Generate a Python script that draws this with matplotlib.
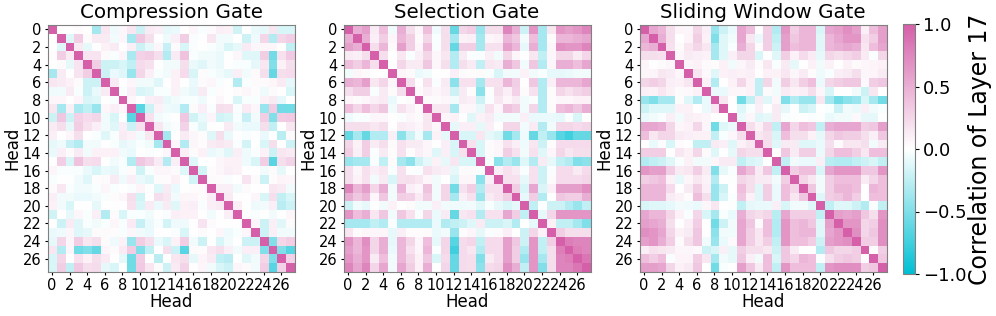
import numpy as np
import matplotlib
matplotlib.use("Agg")
import matplotlib.pyplot as plt
from matplotlib.colors import LinearSegmentedColormap

# upper triangle of each correlation matrix, one list per row (diagonal left out)
compression = [
    [0, 0, .02, 0, -.35, .15, -.07, .05, .15, -.2, .12, .1, -.1, -.08, 0, .05, -.03, .03, .1, .08, -.18, 0, -.08, -.1, .15, -.15, -.15],
    [-.12, .3, .03, .12, .12, -.05, .05, -.35, .35, .2, 0, -.07, .1, .3, -.02, 0, .15, -.05, -.05, 0, -.2, -.07, .25, -.3, .25, .3],
    [.12, -.1, 0, .08, .12, 0, .1, -.2, -.1, .05, -.22, .03, -.15, -.02, 0, -.03, -.05, -.15, -.1, .12, .05, .05, .05, 0, -.25],
    [.17, .17, .03, -.03, .07, -.33, .28, .3, .2, -.3, .12, .38, -.03, -.05, -.05, -.08, 0, .05, -.12, -.12, .3, -.55, .18, .33],
    [.3, -.2, -.2, -.15, -.25, .22, .18, 0, -.05, -.05, .2, -.08, -.12, -.05, -.08, 0, -.03, -.03, -.1, .15, -.5, .08, .2],
    [-.2, -.08, -.12, -.4, .25, .1, -.03, -.05, .08, .22, -.15, .02, -.03, -.05, -.1, .1, -.05, .03, .2, -.6, .2, .22],
    [.12, 0, .05, -.05, -.05, -.12, 0, .08, 0, -.08, .03, .06, -.03, 0, -.3, -.03, .03, .03, .05, .13, -.1],
    [-.03, .1, -.15, -.12, -.03, -.03, .08, -.05, -.1, .12, -.03, .02, 0, .03, .05, .02, -.07, .03, 0, -.15],
    [.05, 0, .1, .12, -.1, -.05, -.03, -.03, -.07, 0, .05, 0, -.15, -.03, -.03, .08, .12, -.1, 0],
    [-.65, -.2, .08, -.07, -.08, -.3, .03, .1, -.02, .2, .18, -.03, .13, .05, -.4, .32, -.55, -.55],
    [.18, -.05, -.03, 0, .35, -.18, -.08, .07, -.18, -.15, -.03, -.22, -.05, .3, -.5, .32, .33],
    [.15, -.05, -.02, .27, -.03, -.12, .01, 0, .12, -.05, -.08, -.08, .2, -.25, 0, .15],
    [-.35, 0, .12, .05, .02, -.12, .2, -.08, 0, -.03, 0, -.08, 0, -.28, .03],
    [.05, -.3, .05, .02, .12, .15, .12, -.02, -.17, 0, -.15, .2, 0, -.2],
    [.1, .03, .08, -.08, -.05, -.12, .1, -.07, -.02, .08, -.2, .15, .13],
    [-.12, 0, 0, .05, .08, .08, -.07, -.15, .3, -.65, .2, .27],
    [-.17, .02, .06, .1, .08, 0, 0, -.05, .03, -.1, 0],
    [.03, .02, -.02, 0, .17, .03, -.2, .02, .07, .05],
    [.1, .1, -.05, .03, 0, 0, .15, .12, -.05],
    [.12, 0, 0, .05, -.15, .2, -.25, -.15],
    [.1, 0, -.07, -.05, .1, -.27, -.2],
    [0, -.03, 0, -.05, 0, .05],
    [.05, -.2, .1, -.12, .03],
    [-.2, .1, -.05, -.05],
    [-.5, .25, .3],
    [-.5, -.65],
    [.28],
]
selection = [
    [.5, .6, .12, .4, -.06, .5, .2, .05, .4, -.07, .2, -.6, .25, .3, -.4, .2, .2, .75, .5, -.2, .65, -.35, .15, .65, .6, .65, .75],
    [.5, .1, .3, .06, .45, .3, .03, .25, -.03, .2, -.35, .08, .1, -.35, .05, .08, .45, .35, -.05, .4, -.35, .03, .45, .45, .5, .55],
    [.2, .45, .03, .6, .3, .05, .4, -.02, .2, -.6, .3, .3, -.35, .18, .18, .6, .45, -.1, .5, -.35, .05, .7, .65, .65, .75],
    [.2, 0, .15, -.03, .1, .25, .05, .15, -.3, .12, -.02, -.02, .1, -.05, .25, .05, 0, .15, -.25, .05, .25, .25, .12, .25],
    [0, .25, .12, .13, .35, .05, .2, -.3, .2, .12, -.25, .15, .12, .5, .35, -.05, .35, -.3, .05, .5, .5, .4, .55],
    [.05, .03, -.08, -.05, 0, 0, .1, .03, .02, .03, -.03, -.15, -.05, -.05, .08, -.05, -.02, -.1, -.1, -.08, -.05, -.05],
    [.2, 0, .18, -.02, .12, -.45, .18, .18, -.35, .18, .18, .45, .3, 0, .35, -.3, .1, .45, .45, .45, .55],
    [.03, .1, .05, .1, -.2, .12, .02, -.45, -.01, .2, .1, .28, .03, .18, -.3, .02, .25, .18, .25, .3],
    [.03, .03, .05, -.05, .12, .1, -.2, -.02, .15, .05, .12, -.05, -.02, -.3, .02, .05, .05, .08, .08],
    [.15, .15, -.35, .05, .05, -.1, .18, .05, .38, .3, -.05, .25, -.3, .03, .4, .45, .35, .5],
    [.05, .08, 0, -.12, .08, .12, -.05, -.05, -.05, .1, -.08, -.08, -.08, -.1, -.02, -.15, 0],
    [-.1, .1, .1, -.1, .1, 0, .25, .25, -.05, .12, -.3, -.05, .25, .25, .22, .25],
    [-.15, -.15, .15, -.1, -.15, -.55, -.35, -.07, -.6, -.25, -.4, -.65, -.75, -.6, -.6],
    [.18, -.15, .03, .05, .18, .1, -.07, .15, -.2, .02, .22, .22, .22, .22],
    [-.15, .03, .05, .3, .18, -.05, .18, -.12, .05, .25, .15, .2, .2],
    [-.03, -.45, -.3, -.4, -.12, -.3, .12, -.1, -.25, -.3, -.5, -.45],
    [.1, .18, .12, -.03, .18, -.2, -.02, .22, .22, .12, .22],
    [.18, .18, -.1, .18, -.2, .03, .22, .22, .22, .25],
    [.3, -.15, .55, -.15, .1, .6, .6, .6, .7],
    [-.1, .3, -.3, 0, .35, .3, .3, .5],
    [-.25, 0, -.2, -.2, -.3, -.4, -.25],
    [-.1, .25, .65, .65, .65, .65],
    [.08, -.25, -.25, -.35, -.5],
    [.3, .2, .2, .2],
    [.8, .75, .75],
    [.8, .75],
    [.85],
]
sliding = [
    [.55, .45, .2, .07, .05, .25, .1, -.4, -.2, -.08, .55, .4, 0, .3, -.3, .65, .3, .45, .45, -.15, .55, .6, .7, .6, .1, .4, .6],
    [.5, .2, 0, .07, .3, .08, -.5, -.12, -.05, .55, .15, -.08, .3, -.25, .6, .35, .45, .45, -.12, .45, .55, .65, .65, .18, .3, .6],
    [.18, .03, .15, .25, .15, -.35, -.12, -.03, .5, .25, .02, .3, -.2, .6, .4, .45, .45, -.12, .45, .5, .55, .5, .15, .4, .55],
    [.05, .12, .1, .08, -.35, -.12, .1, .25, .25, -.15, 0, -.12, .3, .08, .22, .12, -.1, .25, .2, .25, .3, .12, -.02, .25],
    [.05, .08, .03, .02, .08, -.05, .05, .12, .02, .15, -.03, .12, -.1, 0, .08, -.05, .08, 0, .08, .03, .05, .07, .08],
    [.15, .04, -.12, .08, .1, .08, .1, 0, .08, .08, .15, .05, .12, .02, -.07, -.03, .1, .12, .2, .05, .07, .12],
    [.08, -.3, 0, .08, .25, .08, -.25, .25, -.05, .3, .15, .3, .4, -.08, .25, .3, .35, .35, .04, .3, .35],
    [-.08, -.08, .06, .05, .08, -.25, .03, -.05, .12, .08, .1, .2, .05, -.15, 0, 0, -.05, -.2, .15, 0],
    [.15, 0, -.55, -.25, .12, -.12, .05, -.5, -.3, -.4, -.4, .15, -.35, -.55, -.45, -.4, -.15, -.35, -.55],
    [0, -.12, -.03, .1, 0, .12, -.1, 0, -.2, -.15, 0, -.03, -.2, -.05, -.08, .1, -.05, -.03],
    [-.08, .05, -.12, -.1, .12, -.03, -.01, 0, -.02, -.01, -.08, -.05, -.05, .04, -.1, -.1, 0],
    [.2, .08, .25, -.25, .55, .25, .4, .35, -.25, .5, .55, .55, .55, .3, .35, .6],
    [.15, .2, -.15, .4, .2, .2, .08, -.1, .25, .35, .3, .3, .2, .1, .35],
    [.2, -.12, .12, .12, -.12, -.12, -.08, .2, .03, .15, .15, .2, -.05, .12],
    [0, .35, .12, .3, .3, -.08, .25, .4, .4, .3, .15, .4, .4],
    [-.25, -.05, -.08, -.08, .1, -.28, -.3, -.3, -.25, -.2, -.15, -.25],
    [.3, .4, .4, -.15, .55, .65, .65, .65, .35, .35, .65],
    [.25, .15, -.05, .3, .4, .4, .4, .12, .25, .4],
    [.35, -.05, .3, .45, .45, .4, 0, .45, .4],
    [-.12, .3, .35, .45, .3, 0, .4, .4],
    [-.25, -.12, -.12, -.2, -.3, -.02, -.25],
    [.6, .55, .6, .35, .2, .65],
    [.65, .65, .25, .3, .7],
    [.7, .25, .35, .7],
    [.3, .3, .7],
    [.02, .3],
    [.35],
]
titles = ["Compression Gate", "Selection Gate", "Sliding Window Gate"]
cbar_ticks = [-1.0, -0.5, 0.0, 0.5, 1.0]


def to_matrix(rows):
    n = len(rows) + 1
    m = np.eye(n)
    for i, row in enumerate(rows):
        m[i, i + 1:] = row
        m[i + 1:, i] = row
    return m


cmap = LinearSegmentedColormap.from_list("gate", ["#00bfd3", "#ffffff", "#d55fa9"])

fig = plt.figure(figsize=(9.96, 3.16), dpi=100)
lefts = [47.5, 343.5, 639.5]
for left, rows, title in zip(lefts, [compression, selection, sliding], titles):
    ax = fig.add_axes([left / 996, 1 - 272 / 316, 247 / 996, 247 / 316])
    im = ax.imshow(to_matrix(rows), cmap=cmap, vmin=-1, vmax=1, aspect="equal")
    ax.set_xticks(range(0, 28, 2))
    ax.set_yticks(range(0, 28, 2))
    ax.tick_params(labelsize=10.5, length=2.5, pad=2)
    ax.set_xlabel("Head", fontsize=12, labelpad=0)
    ax.set_ylabel("Head", fontsize=12, labelpad=1)
    ax.set_title(title, fontsize=14.3, pad=5)
    for s in ax.spines.values():
        s.set_color("#808080")

cax = fig.add_axes([903 / 996, 1 - 274 / 316, 12 / 996, 250 / 316])
cb = fig.colorbar(im, cax=cax, ticks=cbar_ticks)
cb.ax.tick_params(labelsize=13, length=3, pad=3)
cb.set_label("Correlation of Layer 17", fontsize=17, labelpad=1)
cb.outline.set_edgecolor("#808080")

fig.savefig("out.png", dpi=100)
